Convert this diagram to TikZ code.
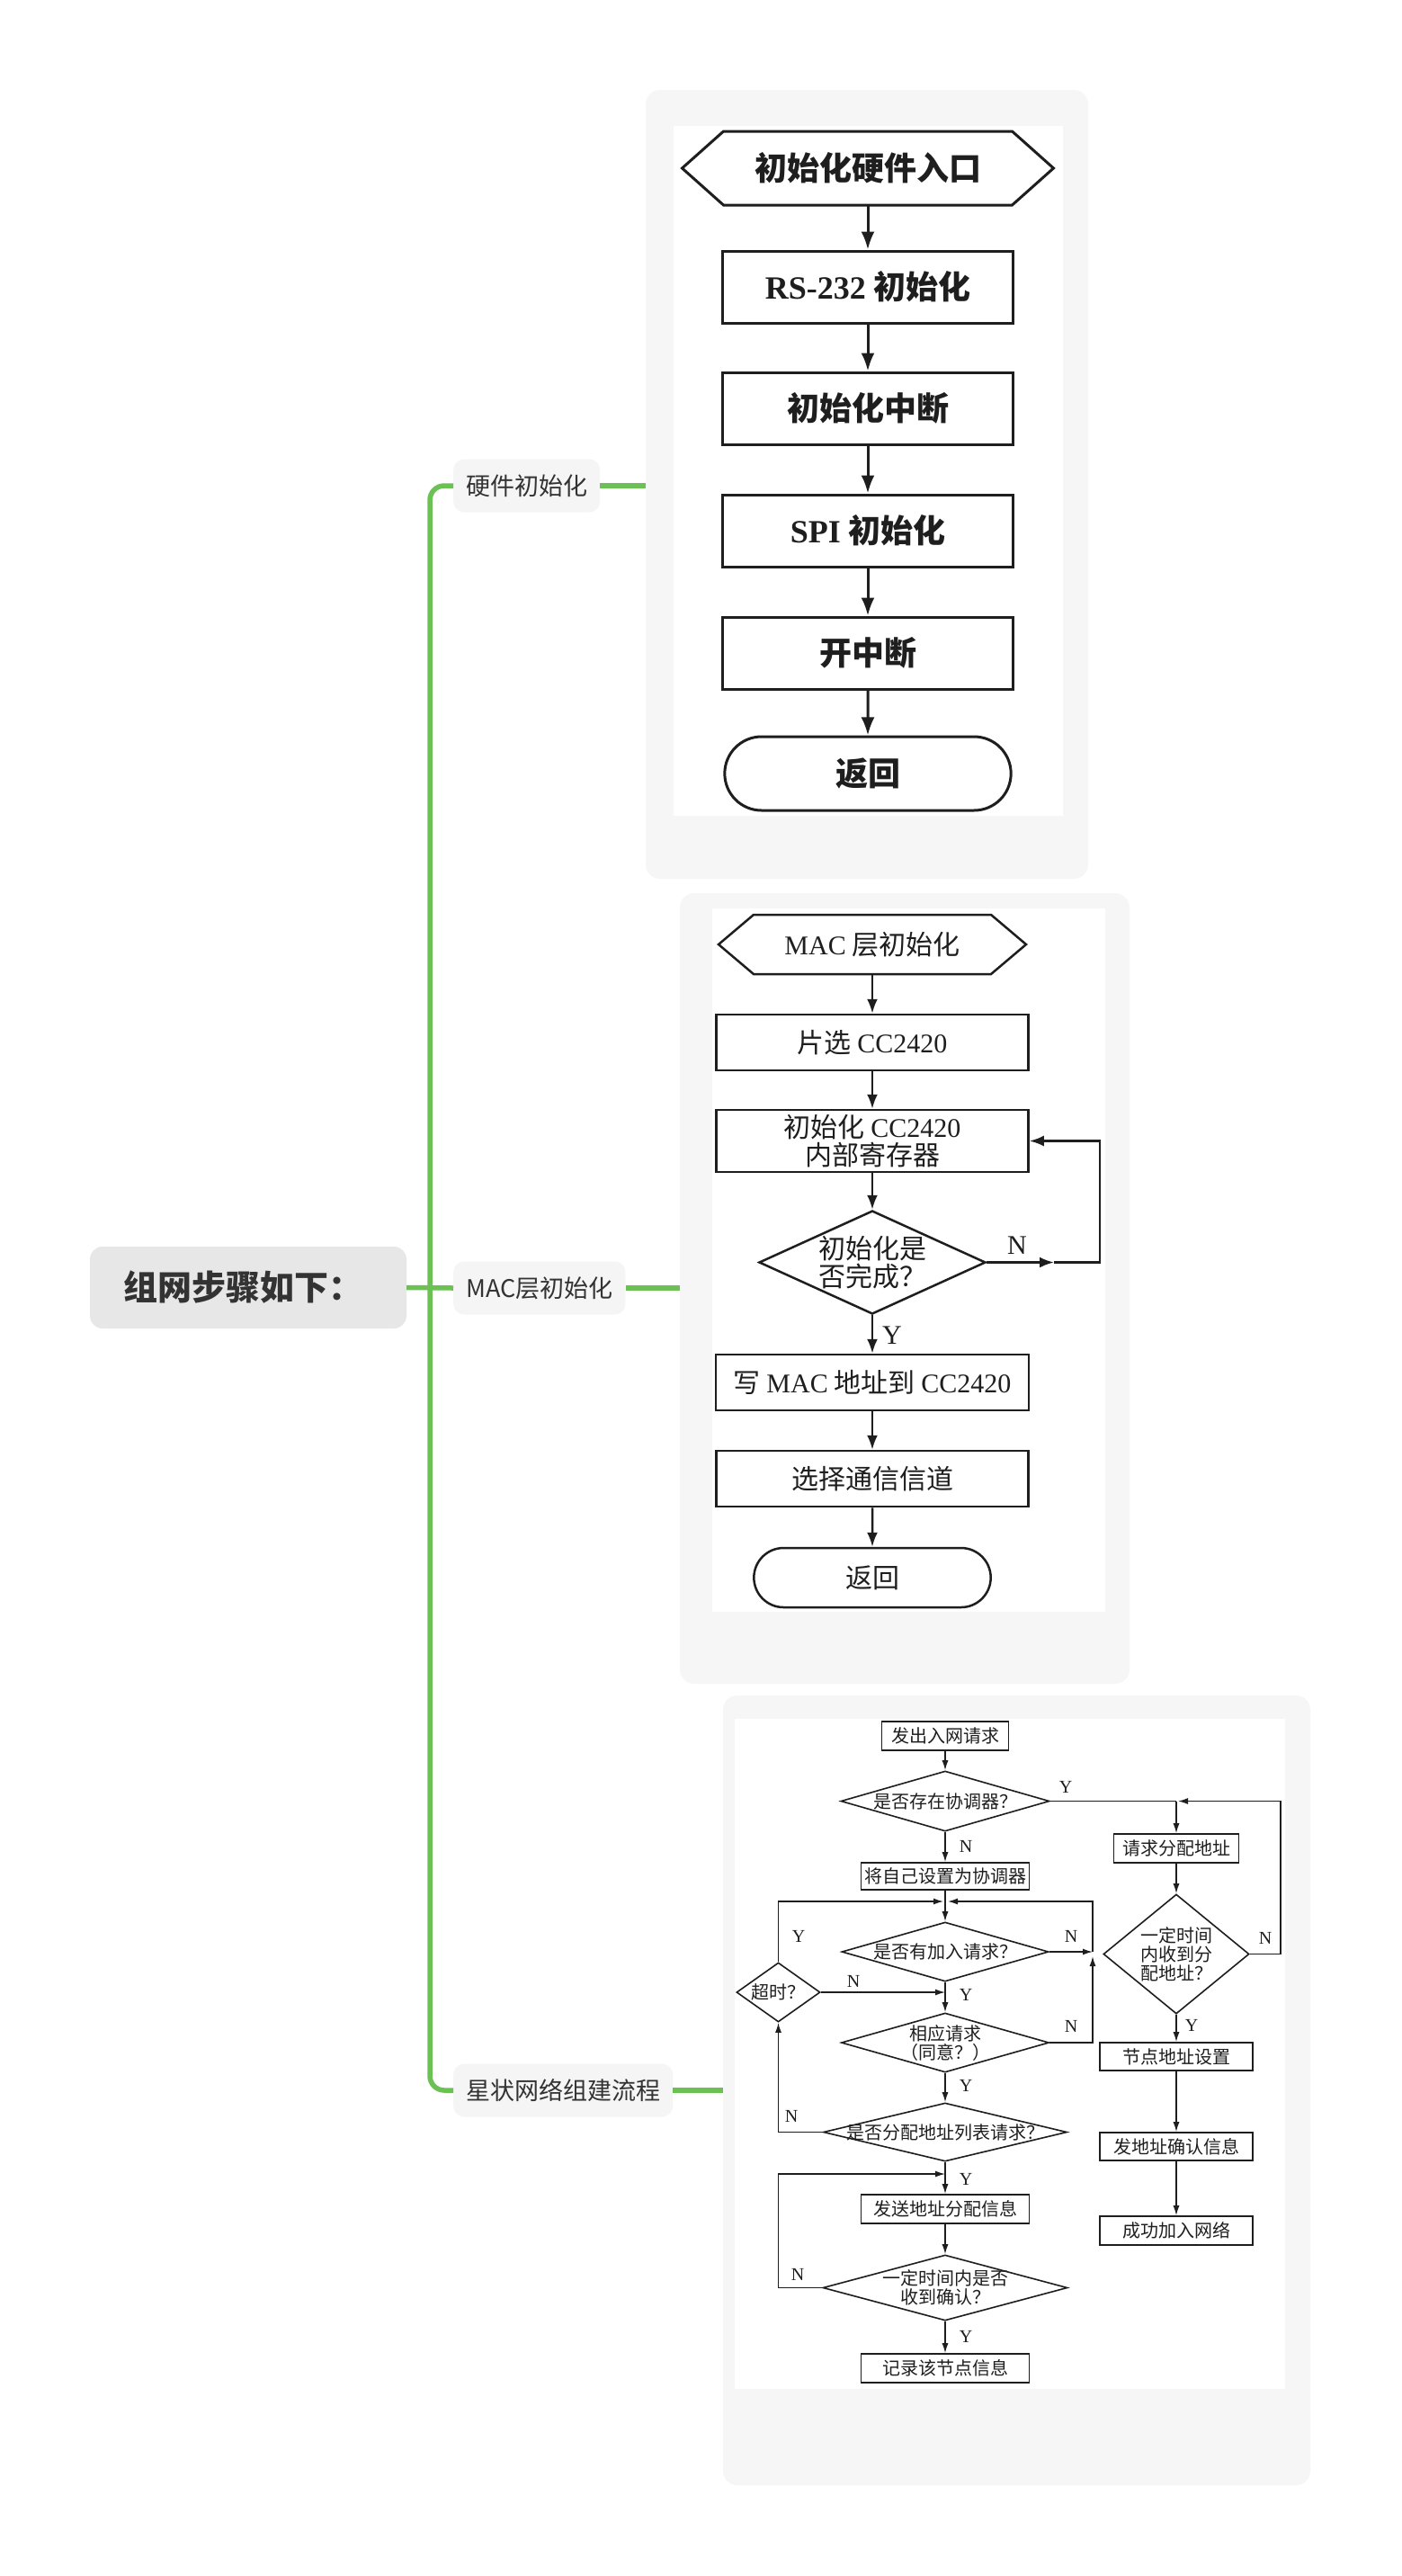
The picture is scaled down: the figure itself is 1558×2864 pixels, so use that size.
\documentclass[tikz,border=0pt]{standalone}
\usepackage{fontspec}
\setmainfont{Liberation Serif}
\newfontfamily\cjk{Noto Sans CJK SC}
\newfontfamily\lat{Liberation Serif}
\usetikzlibrary{arrows.meta,shapes.geometric,shapes.misc}
\definecolor{branchgreen}{RGB}{108,193,84}
\definecolor{panelgray}{RGB}{246,246,247}
\definecolor{topicgray}{RGB}{245,245,245}
\definecolor{rootgray}{RGB}{231,231,231}
\definecolor{inkgray}{RGB}{51,51,51}
\definecolor{flowink}{RGB}{30,30,30}

\begin{document}
\begin{tikzpicture}[x=1pt,y=-1pt,
    rootbox/.style={fill=rootgray, rounded corners=14pt, text width=278pt, inner xsep=37pt, align=left,
      minimum height=91pt, text=inkgray, font=\cjk\bfseries\fontsize{38}{40}\selectfont},
    topic/.style={fill=topicgray, rounded corners=12pt, minimum height=59pt, inner xsep=14pt,
      text=inkgray, font=\cjk\fontsize{27}{30}\selectfont},
    branch/.style={draw=branchgreen, line width=5.5pt},
    panel/.style={fill=panelgray, rounded corners=16pt},
    shot/.style={fill=white},
    % first chart
    box1/.style={draw=flowink, line width=3pt, minimum width=323pt, minimum height=80pt,
      text=flowink, font=\cjk\bfseries\fontsize{36}{38}\selectfont},
    arr1/.style={draw=flowink, line width=3pt, -{Latex[length=20pt,width=15pt]}},
    % second chart
    box2/.style={draw=flowink, line width=2.5pt, minimum width=347pt, minimum height=62pt, align=center,
      text=flowink, font=\cjk\fontsize{30}{31}\selectfont},
    dec2/.style={diamond, draw=flowink, line width=2.5pt, inner sep=0pt},
    txt2/.style={text=flowink, align=center, font=\cjk\fontsize{30}{31}\selectfont},
    arr2/.style={draw=flowink, line width=2.5pt, -{Latex[length=16pt,width=12pt]}},
    yn2/.style={text=flowink, font=\lat\fontsize{30}{30}\selectfont},
    % third chart
    box3/.style={draw=flowink, line width=1.6pt, minimum height=32pt, align=center,
      text=flowink, font=\cjk\fontsize{20}{21}\selectfont},
    dec3/.style={diamond, draw=flowink, line width=1.6pt, inner sep=0pt},
    txt3/.style={text=flowink, align=center, font=\cjk\fontsize{20}{21}\selectfont},
    arr3/.style={draw=flowink, line width=1.5pt, -{Latex[length=11pt,width=7pt]}},
    line3/.style={draw=flowink, line width=1.5pt},
    yn3/.style={text=flowink, font=\lat\fontsize{20}{20}\selectfont}]

\fill[white] (0,0) rectangle (1558,2864);
\useasboundingbox (0,0) rectangle (1558,2864);

% mind map
\node[rootbox] (root) at (276,1431.5) {组网步骤如下：};
\node[topic, anchor=west] (hw) at (504,540) {硬件初始化};
\node[topic, anchor=west] (mac) at (504,1432) {MAC层初始化};
\node[topic, anchor=west] (star) at (504,2324) {星状网络组建流程};

\node[panel, minimum width=492pt, minimum height=877pt] (p1) at (964,538.5) {};
\node[panel, minimum width=500pt, minimum height=879pt] (p2) at (1006,1432.5) {};
\node[panel, minimum width=653pt, minimum height=878pt] (p3) at (1130.5,2324) {};
\node[shot, minimum width=433pt, minimum height=767pt] (w1) at (965.5,523.5) {};
\node[shot, minimum width=437pt, minimum height=782pt] (w2) at (1010.5,1401) {};
\node[shot, minimum width=612pt, minimum height=745pt] (w3) at (1123,2283.5) {};

\coordinate (tbot) at (478,2324);
\draw[branch, rounded corners=16pt] (hw.west) -| (tbot) -- (star.west);
\draw[branch] (root.east) -- (mac.west);
\draw[branch] (hw.east) -- (hw.east -| p1.west);
\draw[branch] (mac.east) -- (mac.east -| p2.west);
\draw[branch] (star.east) -- (star.east -| p3.west);

% chart 1: hardware
\node[box1, draw=none, minimum width=413pt, minimum height=82pt, outer sep=0pt] (h1) at (965,187) {初始化硬件入口};
\draw[flowink, line width=3pt] ([xshift=46pt]h1.north west) -- ([xshift=-46pt]h1.north east) -- (h1.east)
  -- ([xshift=-46pt]h1.south east) -- ([xshift=46pt]h1.south west) -- (h1.west) -- cycle;
\node[box1] (r1) at (965,319) {{\lat\bfseries RS-232} 初始化};
\node[box1] (r2) at (965,454) {初始化中断};
\node[box1] (r3) at (965,590) {{\lat\bfseries SPI} 初始化};
\node[box1] (r4) at (965,726) {开中断};
\node[box1, rounded rectangle, minimum width=325pt, minimum height=82pt] (ret1) at (965,860) {返回};
\draw[arr1] (h1) -- (r1);
\draw[arr1] (r1) -- (r2);
\draw[arr1] (r2) -- (r3);
\draw[arr1] (r3) -- (r4);
\draw[arr1] (r4) -- (ret1);

% chart 2: MAC layer
\node[box2, draw=none, minimum width=342pt, minimum height=66pt, outer sep=0pt] (h2) at (970,1050) {{\lat MAC} 层初始化};
\draw[flowink, line width=2.5pt] ([xshift=39pt]h2.north west) -- ([xshift=-39pt]h2.north east) -- (h2.east)
  -- ([xshift=-39pt]h2.south east) -- ([xshift=39pt]h2.south west) -- (h2.west) -- cycle;
\node[box2] (q1) at (970,1159) {片选 {\lat CC2420}};
\node[box2, minimum height=69pt] (q2) at (970,1268.5) {初始化 {\lat CC2420}\\内部寄存器};
\node[dec2, minimum width=252pt, minimum height=115pt, label={[txt2]center:初始化是\\否完成？}] (dm) at (970,1403.5) {};
\node[box2, minimum width=348pt] (q3) at (970,1537) {写 {\lat MAC} 地址到 {\lat CC2420}};
\node[box2] (q4) at (970,1644) {选择通信信道};
\node[box2, rounded rectangle, minimum width=270pt, minimum height=66pt] (ret2) at (970,1754) {返回};
\coordinate (n2a) at (1172,1403.5);
\coordinate (n2b) at (1223,1268.5);
\draw[arr2] (h2) -- (q1);
\draw[arr2] (q1) -- (q2);
\draw[arr2] (q2) -- (dm);
\draw[arr2] (dm) -- (q3);
\draw[arr2] (q3) -- (q4);
\draw[arr2] (q4) -- (ret2);
\draw[arr2] (dm.east) -- (n2a);
\draw[arr2] (n2a) -| (n2b) -- (q2.east);
\node[yn2] (n2) at (1131,1385) {N};
\node[yn2] (y2) at (992,1485) {Y};

% chart 3: star network
\node[box3, minimum width=141pt] (s1) at (1051,1930) {发出入网请求};
\node[dec3, minimum width=232pt, minimum height=67pt, label={[txt3]center:是否存在协调器？}] (d1) at (1051,2002.5) {};
\node[box3, minimum width=187pt, minimum height=30pt] (s2) at (1051,2086) {将自己设置为协调器};
\node[dec3, minimum width=230pt, minimum height=66pt, label={[txt3]center:是否有加入请求？}] (d2) at (1051,2170) {};
\node[dec3, minimum width=93pt, minimum height=66pt, label={[txt3]center:超时？}] (d3) at (865.5,2215) {};
\node[dec3, minimum width=231pt, minimum height=66pt, label={[txt3]center:相应请求\\（同意？）}] (d4) at (1051,2271) {};
\node[dec3, minimum width=271pt, minimum height=65pt, label={[txt3]center:是否分配地址列表请求？}] (d5) at (1051,2370.5) {};
\node[box3, minimum width=187pt] (s3) at (1051,2456) {发送地址分配信息};
\node[dec3, minimum width=272pt, minimum height=73pt, label={[txt3]center:一定时间内是否\\收到确认？}] (d6) at (1051,2543.5) {};
\node[box3, minimum width=187pt] (s4) at (1051,2633) {记录该节点信息};

\node[box3, minimum width=139pt] (t1) at (1308,2055) {请求分配地址};
\node[dec3, minimum width=162pt, minimum height=133pt, label={[txt3]center:一定时间\\内收到分\\配地址？}] (d7) at (1308,2172.5) {};
\node[box3, minimum width=170pt, minimum height=31pt] (t2) at (1308,2286.5) {节点地址设置};
\node[box3, minimum width=170pt, minimum height=31pt] (t3) at (1308,2386.5) {发地址确认信息};
\node[box3, minimum width=170pt] (t4) at (1308,2480) {成功加入网络};

\coordinate (j1) at (1051,2114);
\coordinate (j2) at (1051,2417);
\coordinate (k1) at (1308,2002.5);
\coordinate (k2) at (1424,2002.5);
\coordinate (m1) at (1215,2170);
\coordinate (m3) at (865.5,2417);

\draw[arr3] (s1) -- (d1);
\draw[arr3] (d1) -- (s2);
\draw[arr3] (s2) -- (d2);
\draw[arr3] (d2) -- (d4);
\draw[arr3] (d4) -- (d5);
\draw[arr3] (d5) -- (s3);
\draw[arr3] (s3) -- (d6);
\draw[arr3] (d6) -- (s4);
\draw[arr3] (d3.north) |- ([xshift=-2pt]j1);
\draw[arr3] (d2.east) -- (m1);
\draw[arr3] (d4.east) -| ([yshift=-5pt]m1);
\draw[arr3] (m1) |- ([xshift=3pt]j1);
\draw[arr3] (d3.east) -- (d3.east -| d2.south);
\draw[arr3] (d5.west) -| (d3.south);
\draw[arr3] (d6.west) -| (m3) -- (j2);
\draw[line3] (d1.east) -- (k1);
\draw[arr3] (k1) -- (t1);
\draw[arr3] (d7.east) -| (k2) -- ([xshift=2pt]k1);
\draw[arr3] (t1) -- (d7);
\draw[arr3] (d7) -- (t2);
\draw[arr3] (t2) -- (t3);
\draw[arr3] (t3) -- (t4);

\node[yn3] (ya) at (1185,1987) {Y};
\node[yn3] (na) at (1074,2053) {N};
\node[yn3] (yb) at (888,2153) {Y};
\node[yn3] (nb) at (1191,2153) {N};
\node[yn3] (nc) at (949,2203) {N};
\node[yn3] (yc) at (1074,2218) {Y};
\node[yn3] (nd) at (1191,2253) {N};
\node[yn3] (yd) at (1074,2319) {Y};
\node[yn3] (ne) at (880,2353) {N};
\node[yn3] (ye) at (1074,2423) {Y};
\node[yn3] (nf) at (887,2529) {N};
\node[yn3] (yf) at (1074,2598) {Y};
\node[yn3] (ng) at (1407,2155) {N};
\node[yn3] (yg) at (1325,2252) {Y};
\end{tikzpicture}
\end{document}
